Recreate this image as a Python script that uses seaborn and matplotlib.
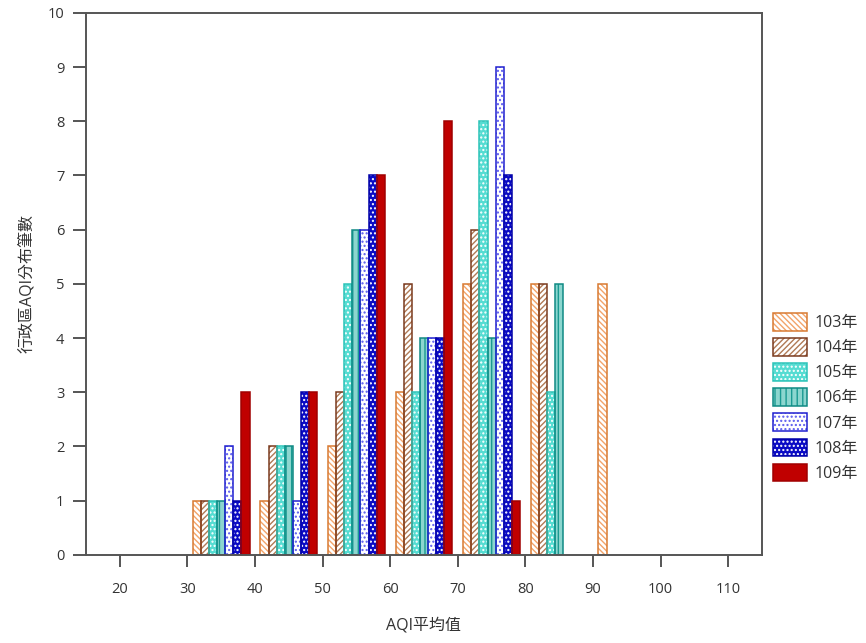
import numpy as np
import pandas as pd
import seaborn as sns
import matplotlib.pyplot as plt
from matplotlib.patches import Patch, Rectangle
from matplotlib.legend_handler import HandlerTuple

# histogram bins (centres of 10-wide AQI bins) and counts per year
bin_centers = [35, 45, 55, 65, 75, 85, 95]
years = ["103年", "104年", "105年", "106年", "107年", "108年", "109年"]
counts_103 = [1, 1, 2, 3, 5, 5, 5]
counts_104 = [1, 2, 3, 5, 6, 5, 0]
counts_105 = [1, 2, 5, 3, 8, 3, 0]
counts_106 = [1, 2, 6, 4, 4, 5, 0]
counts_107 = [2, 1, 6, 4, 9, 0, 0]
counts_108 = [1, 3, 7, 4, 7, 0, 0]
counts_109 = [3, 3, 7, 8, 1, 0, 0]
x_ticks = [20, 30, 40, 50, 60, 70, 80, 90, 100, 110]
y_ticks = list(range(0, 11))

all_counts = [counts_103, counts_104, counts_105, counts_106,
              counts_107, counts_108, counts_109]

rows = []
for year, cnts in zip(years, all_counts):
    for c, n in zip(bin_centers, cnts):
        if n > 0:
            rows.append({"aqi": c, "year": year, "count": n})
df = pd.DataFrame(rows)

# face colour, hatch, hatch colour, outline colour
styles = {
    "103年": ("white", "\\\\\\\\\\\\", "#F2A46A", "#D87A32"),
    "104年": ("white", "//////", "#B07A55", "#7A3A1E"),
    "105年": ("#55DCD2", "....", "white", "#2CC3B8"),
    "106年": ("#8CD6CF", "|||", "#1A9A92", "#0F8A84"),
    "107年": ("white", "....", "#5A5AEE", "#2020D0"),
    "108年": ("#0A0AC4", "....", "white", "#0000A8"),
    "109年": ("#C00000", "", "#C00000", "#A00000"),
}

sns.set_style("white")
plt.rcParams["font.family"] = ["Open Sans", "Noto Sans CJK TC", "DejaVu Sans"]
plt.rcParams["hatch.linewidth"] = 1.0

fig = plt.figure(figsize=(8.66, 6.43), dpi=100)
ax = fig.add_axes([0.0993, 0.137, 0.7806, 0.843])

sns.barplot(
    data=df, x="aqi", y="count", hue="year", hue_order=years,
    native_scale=True, width=0.84, errorbar=None, legend=False,
    palette=[styles[y][0] for y in years], ax=ax,
)

# restyle each year's bars: hatch in its own colour plus a separate outline
for year, cont in zip(years, ax.containers):
    face, hatch, hcol, edge = styles[year]
    for p in cont.patches:
        p.set_facecolor(face)
        p.set_edgecolor(hcol)
        p.set_hatch(hatch)
        p.set_linewidth(0)
        ax.add_patch(Rectangle((p.get_x(), p.get_y()), p.get_width(), p.get_height(),
                               facecolor="none", edgecolor=edge, linewidth=1.1, zorder=p.get_zorder() + 0.1))

ax.set_xlim(15, 115)
ax.set_ylim(0, 10)
ax.set_xticks(x_ticks)
ax.set_yticks(y_ticks)
ax.set_xlabel("AQI平均值", fontsize=11.5, color="#333333", labelpad=15)
ax.set_ylabel("行政區AQI分布筆數", fontsize=11.5, color="#333333", labelpad=9)

for s in ax.spines.values():
    s.set_color("#555555")
    s.set_linewidth(1.4)
ax.tick_params(axis="x", direction="out", length=8.5, width=1.4, color="#555555",
               pad=11, labelsize=10.5, labelcolor="#333333", bottom=True)
ax.tick_params(axis="y", direction="out", length=9.5, width=1.4, color="#555555",
               pad=6, labelsize=10.5, labelcolor="#333333", left=True)

handles = []
for year in years:
    face, hatch, hcol, edge = styles[year]
    handles.append((Patch(facecolor=face, edgecolor=hcol, hatch=hatch, linewidth=0),
                    Patch(facecolor="none", edgecolor=edge, linewidth=1.1)))
leg = fig.legend(handles, years, handler_map={tuple: HandlerTuple(ndivide=1)},
                 loc="upper left", bbox_to_anchor=(0.893, 0.513), frameon=False,
                 fontsize=11.5, handlelength=2.1, handleheight=1.3,
                 labelspacing=0.44, handletextpad=0.5, borderpad=0, borderaxespad=0)
for t in leg.get_texts():
    t.set_color("#333333")

fig.savefig("out.png", dpi=100)
